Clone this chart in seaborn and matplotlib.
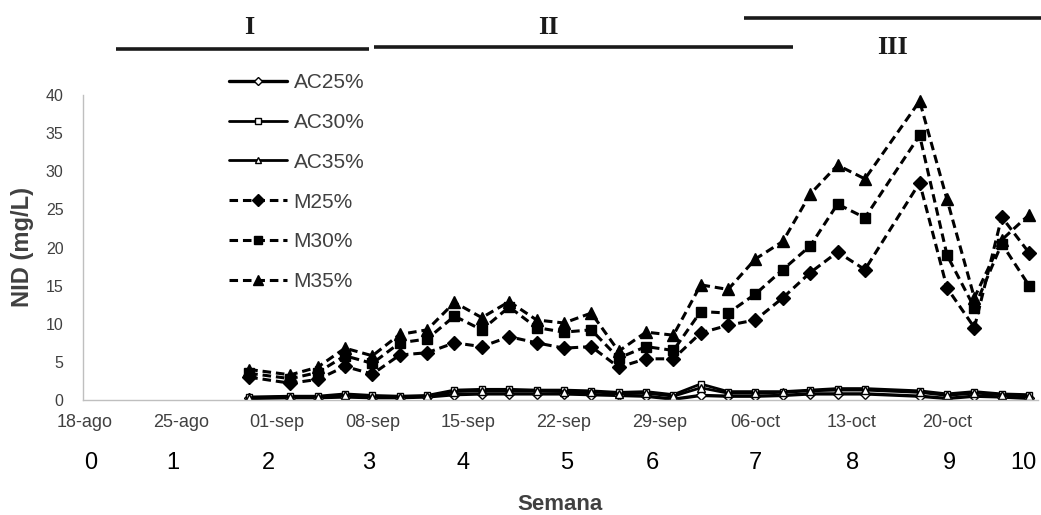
import matplotlib
matplotlib.use("Agg")
import matplotlib.pyplot as plt
import matplotlib.transforms as mtransforms
from matplotlib.lines import Line2D
import seaborn as sns

# Sampling days, counted from 18-ago
dias = [12, 15, 17, 19, 21, 23, 25, 27, 29, 31, 33, 35, 37, 39,
        41, 43, 45, 47, 49, 51, 53, 55, 57, 61, 63, 65, 67, 69]

# NID (mg/L) per treatment
ac25 = [0.2, 0.3, 0.3, 0.4, 0.3, 0.3, 0.4, 0.7, 0.8, 0.8, 0.8, 0.8, 0.7, 0.6,
        0.5, 0.1, 0.6, 0.5, 0.5, 0.6, 0.8, 0.8, 0.8, 0.5, 0.2, 0.5, 0.4, 0.2]
ac30 = [0.4, 0.5, 0.5, 0.8, 0.6, 0.5, 0.6, 1.3, 1.4, 1.4, 1.3, 1.3, 1.2, 1.0,
        1.1, 0.7, 2.1, 1.1, 1.1, 1.1, 1.3, 1.5, 1.5, 1.2, 0.8, 1.1, 0.8, 0.7]
ac35 = [0.3, 0.4, 0.4, 0.6, 0.4, 0.4, 0.5, 1.1, 1.2, 1.2, 1.2, 1.1, 1.1, 0.8,
        0.9, 0.5, 1.6, 0.9, 0.9, 1.0, 1.2, 1.3, 1.3, 1.0, 0.6, 0.9, 0.7, 0.5]
m25 = [3.0, 2.2, 2.7, 4.4, 3.4, 5.9, 6.2, 7.5, 7.0, 8.3, 7.5, 6.8, 7.0, 4.3,
       5.4, 5.4, 8.8, 9.8, 10.5, 13.4, 16.7, 19.4, 17.1, 28.5, 14.7, 9.5, 24.0, 19.3]
m30 = [3.5, 2.8, 3.6, 5.8, 4.8, 7.5, 8.0, 11.0, 9.2, 12.2, 9.5, 8.9, 9.2, 5.5,
       7.0, 6.5, 11.6, 11.4, 13.9, 17.1, 20.2, 25.7, 23.9, 34.7, 19.0, 12.1, 20.5, 15.0]
m35 = [4.0, 3.3, 4.3, 6.8, 5.8, 8.6, 9.2, 12.8, 10.8, 12.9, 10.5, 10.1, 11.4, 6.4,
       8.9, 8.5, 15.1, 14.5, 18.5, 20.8, 27.0, 30.8, 29.0, 39.2, 26.3, 13.4, 21.0, 24.3]

series_names = ["AC25%", "AC30%", "AC35%", "M25%", "M30%", "M35%"]
series_vals = [ac25, ac30, ac35, m25, m30, m35]

fechas_dias = [0, 7, 14, 21, 28, 35, 42, 49, 56, 63]
fechas_labels = ["18-ago", "25-ago", "01-sep", "08-sep", "15-sep",
                 "22-sep", "29-sep", "06-oct", "13-oct", "20-oct"]
semanas = ["0", "1", "2", "3", "4", "5", "6", "7", "8", "9", "10"]
fases = ["I", "II", "III"]

# ---- styling ----
sns.set_theme(style="white")
NARROW = ["Liberation Sans Narrow", "Liberation Sans", "DejaVu Sans"]
plt.rcParams["font.family"] = NARROW
TXT = "#404040"

W, H = 1041, 515
fig = plt.figure(figsize=(W / 100, H / 100), dpi=100)
ax = fig.add_axes([83 / W, 1 - 400 / H, (1038 - 83) / W, (400 - 95) / H])

styles = {
    "AC25%": dict(marker="D", ms=5.0, solid=True, lw=2.4),
    "AC30%": dict(marker="s", ms=5.0, solid=True, lw=2.0),
    "AC35%": dict(marker="^", ms=5.5, solid=True, lw=2.0),
    "M25%": dict(marker="D", ms=7.5, solid=False, lw=2.2),
    "M30%": dict(marker="s", ms=7.5, solid=False, lw=2.2),
    "M35%": dict(marker="^", ms=9.0, solid=False, lw=2.2),
}

handles = []
for name, vals in zip(series_names, series_vals):
    st = styles[name]
    n_before = len(ax.lines)
    sns.lineplot(x=dias, y=vals, ax=ax, color="black", errorbar=None,
                 legend=False, linewidth=st["lw"], marker=st["marker"],
                 markersize=st["ms"], markeredgecolor="black",
                 markeredgewidth=1.0,
                 markerfacecolor="white" if st["solid"] else "black")
    line = ax.lines[n_before]
    if st["solid"]:
        line.set_linestyle("-")
    else:
        line.set_linestyle((0, (2.8, 1.6)))
    line.set_label(name)
    handles.append(line)

ax.set_xlim(-0.15, 69.65)
ax.set_ylim(0, 40)
ax.set_yticks(range(0, 41, 5))
ax.set_xticks(fechas_dias)
ax.set_xticklabels(fechas_labels)
ax.tick_params(axis="x", length=0, pad=10, labelsize=13, labelcolor=TXT)
ax.tick_params(axis="y", length=0, pad=14, labelsize=11.5, labelcolor=TXT)
ax.set_xlabel("")
ax.set_ylabel("")
for s in ["top", "right"]:
    ax.spines[s].set_visible(False)
for s in ["left", "bottom"]:
    ax.spines[s].set_color("#bfbfbf")
    ax.spines[s].set_linewidth(1.0)
ax.grid(False)

# week numbers under the date labels
trans = mtransforms.blended_transform_factory(ax.transData, fig.transFigure)
semana_x = [0.4, 6.4, 13.4, 20.7, 27.6, 35.2, 41.5, 49.0, 56.1, 63.2, 68.6]
for xs, lab in zip(semana_x, semanas):
    fig.text(xs, 1 - 463 / H, lab, transform=trans, ha="center", va="center",
             fontsize=17, color="black")

fig.text(560 / W, 1 - 505 / H, "Semana", ha="center", va="center",
         fontsize=16, fontweight="bold", color=TXT)
fig.text(23 / W, 1 - 247 / H, "NID (mg/L)", ha="center", va="center",
         rotation=90, fontsize=17, fontweight="bold", color=TXT,
         family=["Liberation Sans", "DejaVu Sans"])

# phase bars and labels across the top
bars = [((116, 369), 49), ((374, 793), 47), ((744, 1041), 18)]
for (x0, x1), yb in bars:
    fig.add_artist(Line2D([x0 / W, x1 / W], [1 - yb / H, 1 - yb / H],
                          transform=fig.transFigure, color="#1a1a1a",
                          linewidth=2.6, solid_capstyle="butt"))
fase_pos = [(249, 27), (548, 27), (893, 48)]
for (xf, yf), lab in zip(fase_pos, fases):
    fig.text(xf / W, 1 - yf / H, lab, ha="center", va="center",
             fontsize=19, fontweight="bold", color="#1a1a1a",
             family=["Liberation Serif", "DejaVu Serif"])

leg = ax.legend(handles, series_names, loc="upper left",
                bbox_to_anchor=(229 / W, 1 - 73 / H),
                bbox_transform=fig.transFigure, frameon=False,
                handlelength=2.8, handletextpad=0.3, labelspacing=1.0,
                borderpad=0, borderaxespad=0, fontsize=15, numpoints=1,
                markerscale=0.8)
for t in leg.get_texts():
    t.set_color(TXT)

fig.savefig("out.png", dpi=100, facecolor="white")
